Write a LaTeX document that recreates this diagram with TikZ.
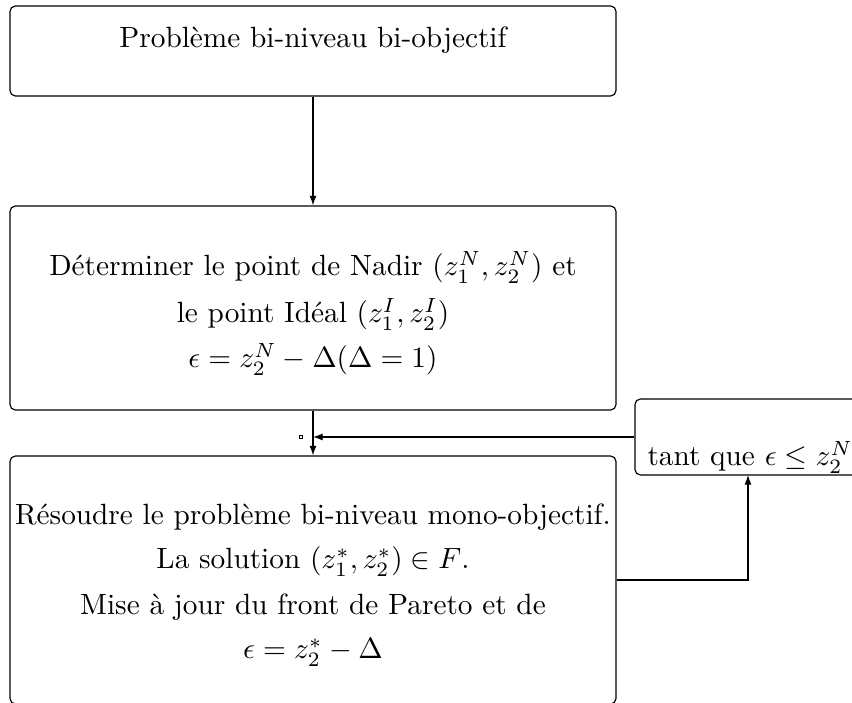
\documentclass[tikz,border=0pt]{standalone}
\usetikzlibrary{arrows.meta}
\tikzset{
  box/.style={draw, rounded corners=1.8pt, line width=0.4pt, inner sep=0pt},
  txt/.style={anchor=base, inner sep=0pt},
  arr/.style={draw, line width=0.4pt, -{Latex[length=3.3pt,width=2.4pt]}},
}
\begin{document}
\begin{tikzpicture}[x=0.3413pt, y=-0.3413pt]
\useasboundingbox (0,0) rectangle (852,703);
% boxes
\node[box, minimum width=206.8pt, minimum height=30.7pt] (b1) at (313,51) {};
\node[box, minimum width=206.8pt, minimum height=69.6pt] (b2) at (313,308) {};
\node[box, minimum width=206.8pt, minimum height=84.6pt] (b3) at (313,580) {};
\node[box, minimum width=81.9pt, minimum height=25.9pt] (rb) at (755,437) {};
% texts
\node[txt] (t1) at (313,48) {Problème bi-niveau bi-objectif};
\node[txt] (t2a) at (313,276) {Déterminer le point de Nadir $(z_1^N,z_2^N)$ et};
\node[txt] (t2b) at (313,323) {le point Idéal $(z_1^I,z_2^I)$};
\node[txt] (t2c) at (313,368) {$\epsilon=z_2^N-\Delta(\Delta=1)$};
\node[txt] (t3a) at (313,525) {Résoudre le problème bi-niveau mono-objectif.};
\node[txt] (t3b) at (313,569) {La solution $(z_1^*,z_2^*)\in F$.};
\node[txt] (t3c) at (313,615) {Mise à jour du front de Pareto et de};
\node[txt] (t3d) at (313,659) {$\epsilon=z_2^*-\Delta$};
\node[txt, anchor=base west] (t4) at (647,466) {tant que $\epsilon\le z_2^N$};
% small marker
\node[draw, line width=0.3pt, minimum size=1.1pt, inner sep=0pt] (m) at (301,437) {};
% connectors
\coordinate (t) at (748,475);
\draw[arr] (b1.south) -- (b2.north);
\draw[arr] (b2.south) -- (b3.north);
\draw[arr] (rb.west) -- (rb.west -| b2.south);
\draw[arr] (b3.east) -| (t);
\end{tikzpicture}
\end{document}
